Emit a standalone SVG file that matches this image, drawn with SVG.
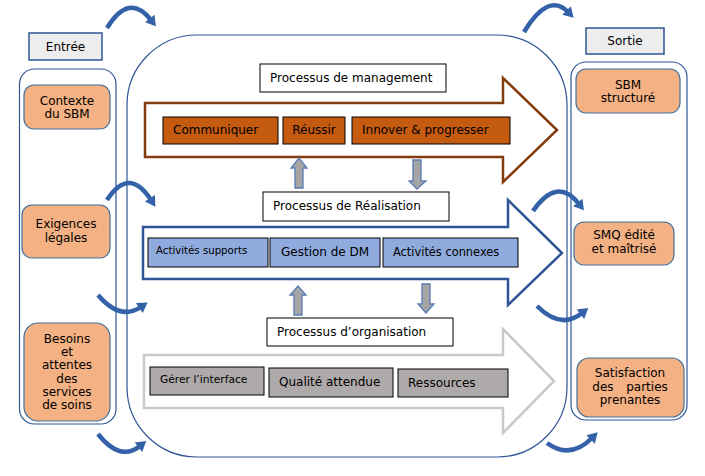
<svg xmlns="http://www.w3.org/2000/svg" width="705" height="476" viewBox="0 0 705 476">
<defs>
<style>
text{font-family:"DejaVu Sans","Liberation Sans",sans-serif;font-size:12px;fill:#000}
.c{text-anchor:middle}
.frame{fill:none;stroke:#2f5597;stroke-width:1.2}
.label{fill:#ededed;stroke:#2f5597;stroke-width:1.5}
.io{fill:#f4b183;stroke:#41719c;stroke-width:1.2}
.title{fill:#fff;stroke:#000;stroke-width:1}
.brown{fill:#c55a11;stroke:#000;stroke-width:1}
.blue{fill:#8faadc;stroke:#000;stroke-width:1}
.gray{fill:#aeaaaa;stroke:#000;stroke-width:1}
.curve{fill:none;stroke:#3462a8;stroke-width:4.5;stroke-linecap:butt}
.small{fill:#a5a5a5;stroke:#5b7bb5;stroke-width:1.3}
</style>
<marker id="ah" markerUnits="userSpaceOnUse" markerWidth="16" markerHeight="16" viewBox="-2 -8 14 16" refX="2" refY="0" orient="auto">
<path d="M0,-6 L10,0 L0,6 z" fill="#3462a8"/>
</marker>
</defs>

<!-- main frame -->
<rect class="frame" x="127" y="35" width="440" height="422" rx="70" ry="70"/>

<g id="entree">
<rect class="label" x="29" y="33" width="73" height="27"/>
<text class="c" x="65.5" y="51">Entrée</text>
</g>
<rect class="frame" x="19.5" y="69" width="96.5" height="355" rx="15" ry="15"/>

<g id="contexte">
<rect class="io" x="24" y="85" width="86" height="44" rx="10" ry="10"/>
<text class="c" x="67" y="105">Contexte</text>
<text class="c" x="67" y="118">du SBM</text>
</g>
<g id="exigences">
<rect class="io" x="22" y="205" width="88" height="53" rx="10" ry="10"/>
<text class="c" x="66" y="228">Exigences</text>
<text class="c" x="66" y="242">légales</text>
</g>
<g id="besoins">
<rect class="io" x="24" y="323" width="86" height="98" rx="14" ry="14"/>
<text class="c" x="67" y="343">Besoins</text>
<text class="c" x="67" y="356">et</text>
<text class="c" x="67" y="369">attentes</text>
<text class="c" x="67" y="383">des</text>
<text class="c" x="67" y="396">services</text>
<text class="c" x="67" y="409">de soins</text>
</g>

<g id="sortie">
<rect class="label" x="586" y="28" width="78" height="26"/>
<text class="c" x="625" y="45">Sortie</text>
</g>
<rect class="frame" x="571" y="62" width="116" height="358" rx="15" ry="15"/>

<g id="sbm">
<rect class="io" x="576" y="69" width="104" height="44" rx="10" ry="10"/>
<text class="c" x="628" y="89">SBM</text>
<text class="c" x="628" y="102">structuré</text>
</g>
<g id="smq">
<rect class="io" x="574" y="222" width="100" height="43" rx="10" ry="10"/>
<text class="c" x="624" y="239">SMQ édité</text>
<text class="c" x="624" y="253">et maîtrisé</text>
</g>
<g id="satisfaction">
<rect class="io" x="577" y="358" width="107" height="59" rx="12" ry="12"/>
<text class="c" x="630" y="377">Satisfaction</text>
<text class="c" y="391"><tspan x="603">des</tspan><tspan x="647">parties</tspan></text>
<text class="c" x="630" y="404">prenantes</text>
</g>

<!-- Management -->
<g id="management">
<path d="M145,103 H503 V78 L557,130 L503,182 V157 H145 Z" fill="#fff" stroke="#843c0c" stroke-width="2.5" stroke-linejoin="miter"/>
<rect class="title" x="260" y="64" width="186" height="28"/>
<text x="270" y="82">Processus de management</text>
<rect class="brown" x="163" y="117" width="115" height="27"/>
<text x="173" y="134">Communiquer</text>
<rect class="brown" x="283" y="117" width="62" height="27"/>
<text class="c" x="314" y="134">Réussir</text>
<rect class="brown" x="352" y="117" width="158" height="27"/>
<text x="362" y="134">Innover &amp; progresser</text>
</g>

<!-- Réalisation -->
<g id="realisation">
<path d="M143,227 H508 V200 L562,253 L508,305 V279 H143 Z" fill="#fff" stroke="#2f5597" stroke-width="2.5"/>
<rect class="title" x="263" y="192" width="186" height="29"/>
<text x="273" y="210">Processus de Réalisation</text>
<rect class="blue" x="148" y="238" width="120" height="29"/>
<text x="156" y="254" style="font-size:10.2px">Activités supports</text>
<rect class="blue" x="270" y="238" width="110" height="29"/>
<text x="281" y="256">Gestion de DM</text>
<rect class="blue" x="383" y="238" width="135" height="29"/>
<text x="393" y="256" style="font-size:11.4px">Activités connexes</text>
</g>

<!-- Organisation -->
<g id="organisation">
<path d="M144,355 H503 V329 L554,381 L503,433 V408 H144 Z" fill="#fff" stroke="#c9c9c9" stroke-width="2.5"/>
<rect class="title" x="267" y="318" width="186" height="28"/>
<text x="277" y="336">Processus d’organisation</text>
<rect class="gray" x="150" y="367" width="114" height="28"/>
<text x="160" y="383" style="font-size:10.7px">Gérer l’interface</text>
<rect class="gray" x="269" y="368" width="124" height="29"/>
<text x="279" y="386">Qualité attendue</text>
<rect class="gray" x="398" y="369" width="110" height="28"/>
<text x="408" y="387">Ressources</text>
</g>

<!-- connectors -->
<g id="connectors">
<path class="small" d="M299,158 L307,168 H303 V188 H295 V168 H291 Z"/>
<path class="small" d="M417,189 L426,181 H421 V160 H413 V181 H409 Z"/>
<path class="small" d="M298,286 L306,295 H302 V315 H294 V295 H290 Z"/>
<path class="small" d="M426,313 L434,304 H430 V284 H422 V304 H418 Z"/>

<path class="curve" marker-end="url(#ah)" d="M107,28 Q129,-8 151,20"/>
<path class="curve" marker-end="url(#ah)" d="M107,200 Q129,166 151,200"/>
<path class="curve" marker-end="url(#ah)" d="M98,295 Q120,321 141,307"/>
<path class="curve" marker-end="url(#ah)" d="M98,434 Q120,462 140,446"/>
<path class="curve" marker-end="url(#ah)" d="M524,32 Q548,-8 568,12"/>
<path class="curve" marker-end="url(#ah)" d="M533,211 Q557,176 579,204"/>
<path class="curve" marker-end="url(#ah)" d="M537,306 Q561,330 582,313"/>
<path class="curve" marker-end="url(#ah)" d="M547,443 Q570,460 592,438"/>
</g>
</svg>
